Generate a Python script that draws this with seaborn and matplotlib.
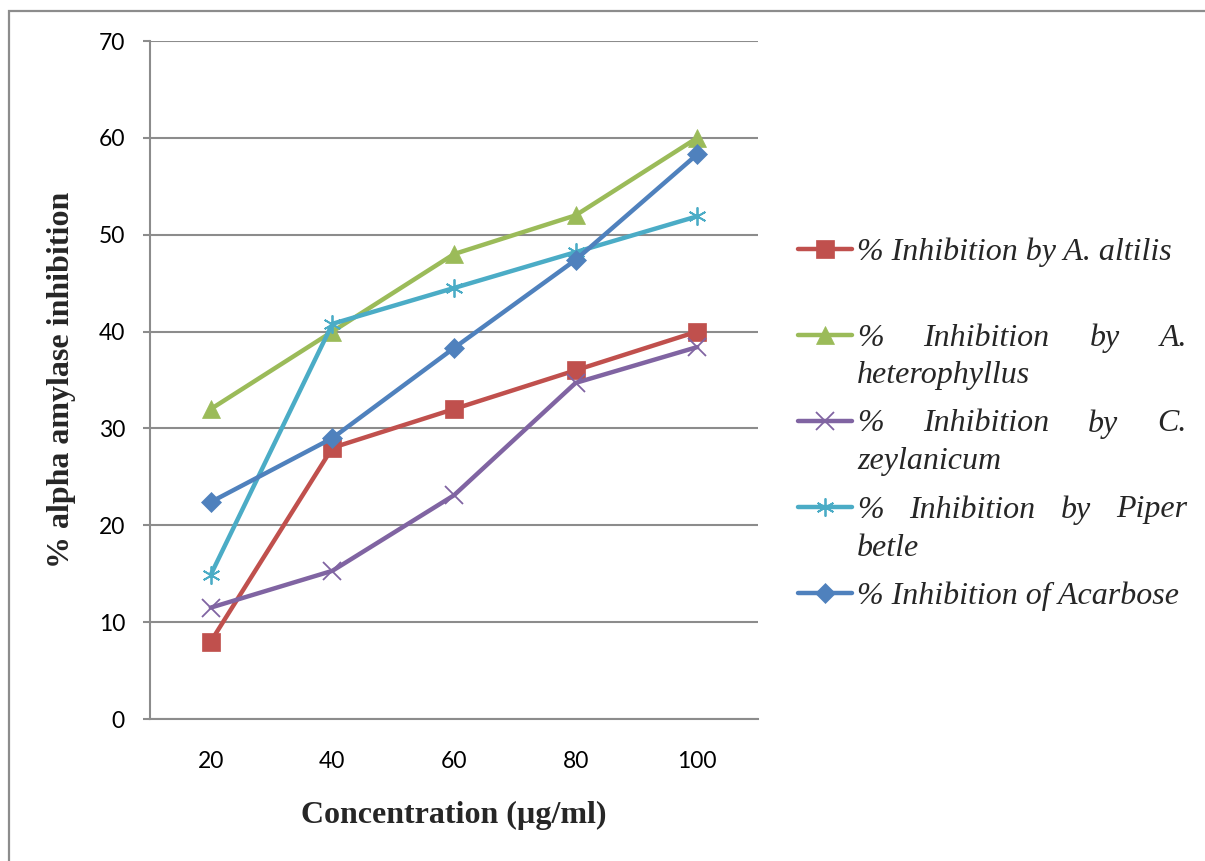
import matplotlib
matplotlib.use("Agg")
import matplotlib.pyplot as plt
import seaborn as sns
from matplotlib.lines import Line2D
from matplotlib.patches import Rectangle
from matplotlib.font_manager import FontProperties

# ---------------- data ----------------
concentration = [20, 40, 60, 80, 100]
x_tick_labels = ["20", "40", "60", "80", "100"]
altilis = [8.0, 28.0, 32.0, 36.0, 40.0]
heterophyllus = [32.0, 40.0, 48.0, 52.0, 60.0]
zeylanicum = [11.5, 15.3, 23.1, 34.7, 38.4]
piper_betle = [14.9, 40.8, 44.5, 48.2, 51.9]
acarbose = [22.4, 29.0, 38.3, 47.4, 58.3]
y_ticks = [0, 10, 20, 30, 40, 50, 60, 70]

series_labels = [
    "% Inhibition by A. altilis",
    "% Inhibition by A. heterophyllus",
    "% Inhibition by C. zeylanicum",
    "% Inhibition by Piper betle",
    "% Inhibition of Acarbose",
]
series_values = [altilis, heterophyllus, zeylanicum, piper_betle, acarbose]
x_label = "Concentration (\u00b5g/ml)"
y_label = "% alpha amylase inhibition"

# ---------------- style ----------------
colors = ["#C0504D", "#9BBB59", "#8064A2", "#4BACC6", "#4F81BD"]
markers = ["s", "^", "x", (6, 2, 0), "D"]
msizes = [12.5, 13, 12.5, 13, 10]
mews = [0.5, 0.5, 1.3, 1.3, 0.5]
GRID = "#8C8C8C"

sns.set_style("white")
plt.rcParams["font.family"] = ["Lato", "DejaVu Sans"]

W, H = 1205, 861
fig = plt.figure(figsize=(W / 100, H / 100), dpi=100)
ax_left, ax_right, ax_top, ax_bot = 150, 758, 41, 719
ax = fig.add_axes([ax_left / W, 1 - ax_bot / H, (ax_right - ax_left) / W, (ax_bot - ax_top) / H])

for vals, lab, c, m, ms, mew in zip(series_values, series_labels, colors, markers, msizes, mews):
    sns.lineplot(x=concentration, y=vals, ax=ax, color=c, linewidth=3.2,
                 marker=m, markersize=ms, markeredgecolor=c, markerfacecolor=c,
                 markeredgewidth=mew, label=lab, legend=False)

ax.set_xlim(10, 110)
ax.set_ylim(0, 70)
ax.set_yticks(y_ticks)
ax.set_xticks(concentration)
ax.set_xticklabels(x_tick_labels)
step = concentration[1] - concentration[0]
ax.set_xticks([c - step / 2 for c in concentration] + [concentration[-1] + step / 2], minor=True)

ax.yaxis.grid(True, color=GRID, linewidth=1.5)
ax.set_axisbelow(True)
for s in ["top", "right"]:
    ax.spines[s].set_visible(False)
for s in ["left", "bottom"]:
    ax.spines[s].set_color(GRID)
    ax.spines[s].set_linewidth(1.5)

ax.tick_params(axis="x", which="major", length=0, pad=23, labelsize=16.5)
ax.tick_params(axis="x", which="minor", length=5.5, width=1.5, color=GRID, direction="out")
ax.tick_params(axis="y", which="major", length=5, width=1.5, color=GRID, direction="out",
               pad=13, labelsize=16.5, left=True)
for t in ax.get_xticklabels() + ax.get_yticklabels():
    t.set_color("black")

serif_bold = dict(family=["Liberation Serif", "DejaVu Serif"], weight="bold", size=23)
ax.set_xlabel(x_label, **serif_bold)
ax.set_ylabel(y_label, **serif_bold)
ax.xaxis.set_label_coords(0.5, (ax_bot - 815) / (ax_bot - ax_top))
ax.xaxis.label.set_va("center")
ax.yaxis.set_label_coords((62 - ax_left) / (ax_right - ax_left), 0.5)
ax.yaxis.label.set_va("center")

# ---------------- manual justified legend ----------------
renderer = fig.canvas.get_renderer()
leg_font = FontProperties(family=["Liberation Serif", "DejaVu Serif"], style="italic", size=23)
text_x0, text_x1 = 857, 1187
handle_x0, handle_x1 = 798, 852
entry_y0, entry_dy, line_dy = 249, 86, 38
text_dy = 3


def fx(px):
    return px / W


def fy(py):
    return 1 - py / H


def measure(s):
    t = fig.text(0, 0, s, fontproperties=leg_font)
    w = t.get_window_extent(renderer).width
    t.remove()
    return w


avail = text_x1 - text_x0
for i, (lab, c, m, ms, mew) in enumerate(zip(series_labels, colors, markers, msizes, mews)):
    yc = entry_y0 + i * entry_dy
    fig.add_artist(Line2D([fx(handle_x0), fx(handle_x1)], [fy(yc), fy(yc)],
                          transform=fig.transFigure, color=c, linewidth=3.2,
                          solid_capstyle="round"))
    fig.add_artist(Line2D([fx((handle_x0 + handle_x1) / 2)], [fy(yc)], transform=fig.transFigure,
                          marker=m, markersize=ms, color=c, markeredgecolor=c,
                          markeredgewidth=mew, linestyle="none"))
    words = lab.split()
    lines, cur = [], []
    for w in words:
        if cur and measure(" ".join(cur + [w])) > avail:
            lines.append(cur)
            cur = [w]
        else:
            cur.append(w)
    lines.append(cur)
    for li, ln in enumerate(lines):
        y = yc + li * line_dy + text_dy
        if li < len(lines) - 1 and len(ln) > 1:
            widths = [measure(w) for w in ln]
            gap = (avail - sum(widths)) / (len(ln) - 1)
            x = text_x0
            for w, wd in zip(ln, widths):
                fig.text(fx(x), fy(y), w, fontproperties=leg_font, va="center", ha="left")
                x += wd + gap
        else:
            fig.text(fx(text_x0), fy(y), " ".join(ln), fontproperties=leg_font,
                     va="center", ha="left")

# outer frame (cropped at right and bottom)
fig.add_artist(Rectangle((fx(9), -0.1), 1.2, fy(11) + 0.1, transform=fig.transFigure,
                         fill=False, edgecolor=GRID, linewidth=1.6))

fig.savefig("out.png", dpi=100)
